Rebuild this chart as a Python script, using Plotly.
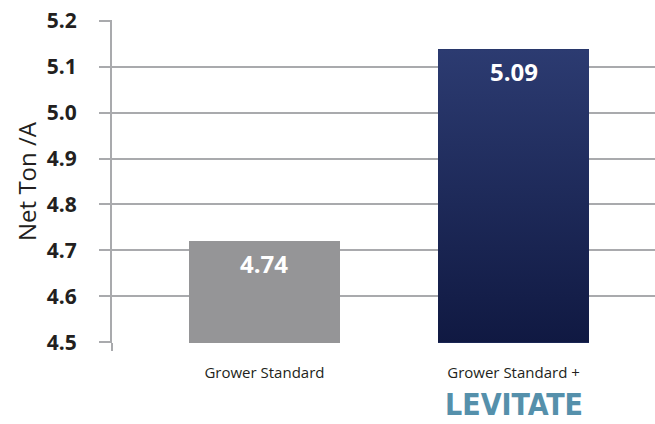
import plotly.graph_objects as go

categories = ["Grower Standard", "Grower Standard +"]
bar_values = [4.721, 5.138]
value_labels = ["4.74", "5.09"]
bar_colors = ["#959597", "#1d2a5a"]
y_ticks = [4.5, 4.6, 4.7, 4.8, 4.9, 5.0, 5.1, 5.2]
y_tick_text = ["4.5", "4.6", "4.7", "4.8", "4.9", "5.0", "5.1", "5.2"]
y_min = 4.5

x_idx = list(range(len(categories)))
bar_w = 0.606

fig = go.Figure()
fig.add_trace(go.Bar(
    x=x_idx, y=bar_values, width=bar_w,
    marker=dict(color=bar_colors, line=dict(width=0)),
    hoverinfo="skip",
))

# vertical gradient shading for the second bar (same geometry as the bar)
i2, v2 = 1, bar_values[1]
fig.add_trace(go.Scatter(
    x=[i2 - bar_w / 2, i2 + bar_w / 2, i2 + bar_w / 2, i2 - bar_w / 2, i2 - bar_w / 2],
    y=[y_min, y_min, v2, v2, y_min],
    mode="lines", line=dict(width=0), fill="toself",
    fillgradient=dict(type="vertical", colorscale=[[0, "#101942"], [1, "#2c3b71"]]),
    hoverinfo="skip",
))

for i, (v, t) in enumerate(zip(bar_values, value_labels)):
    fig.add_annotation(
        x=i, y=v, xref="x", yref="y", text=t, showarrow=False,
        yanchor="top", yshift=-4,
        font=dict(family="Open Sans, sans-serif", size=24, color="white", weight="bold"),
    )

fig.add_annotation(
    x=1, y=-0.13, xref="x", yref="paper", text="LEVITATE", showarrow=False,
    yanchor="top",
    font=dict(family="Liberation Sans Narrow, DejaVu Sans Condensed, Roboto, sans-serif",
              size=30, color="#5590ab", weight="bold"),
)

grid_col = "#a9aaad"
fig.update_layout(
    width=655, height=424,
    margin=dict(l=112, r=0, t=20, b=81, autoexpand=False),
    paper_bgcolor="white", plot_bgcolor="white",
    showlegend=False,
    bargap=0,
    xaxis=dict(
        range=[-0.612, 1.568], automargin=False,
        tickvals=x_idx, ticktext=categories,
        showgrid=False, zeroline=False, showline=False,
        ticks="", tickfont=dict(family="Open Sans, sans-serif", size=15, color="#231f20"),
        ticklabelstandoff=19,
    ),
    yaxis=dict(
        range=[4.4985, 5.2015], automargin=False,
        tickvals=y_ticks, ticktext=y_tick_text,
        showgrid=True, gridcolor=grid_col, gridwidth=2,
        zeroline=False,
        showline=True, linecolor=grid_col, linewidth=2,
        ticks="outside", ticklen=11, tickwidth=2, tickcolor=grid_col,
        ticklabelstandoff=18,
        tickfont=dict(family="Open Sans, sans-serif", size=21, color="#231f20", weight="bold"),
        title=dict(text="Net Ton /A", standoff=3,
                   font=dict(family="Open Sans, sans-serif", size=24, color="#231f20")),
    ),
    shapes=[dict(type="line", xref="paper", yref="paper", x0=0, x1=0, y0=0, y1=-0.025,
                 line=dict(color=grid_col, width=2))],
)

fig.write_html("out.html", config={"displayModeBar": False},
               post_script="document.body.style.margin='0';")
